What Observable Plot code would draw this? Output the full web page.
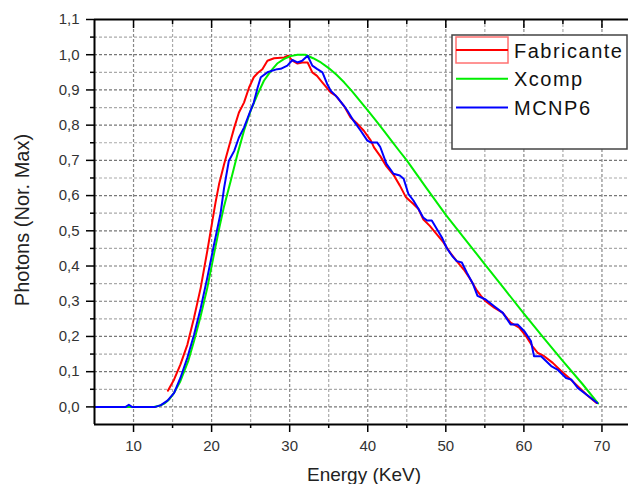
<!DOCTYPE html>
<html><head><meta charset="utf-8">
<script src="https://cdn.jsdelivr.net/npm/d3@7"></script>
<script src="https://cdn.jsdelivr.net/npm/@observablehq/plot@0.6"></script>
<style>body{margin:0;background:#fff;}</style>
</head><body><div id="chart"></div>
<script>
// ---- data ----
const seriesNames = ["Fabricante", "Xcomp", "MCNP6"];
const seriesColors = ["#ff0000", "#00ee00", "#0000ff"];

const fabricanteEnergy = [14.4,15.2,16.0,16.9,17.75,18.6,19.45,20.1,20.5,20.95,21.6,22.2,22.9,23.5,24.15,24.8,25.4,25.9,26.5,27.15,28.0,29.3,29.8,30.35,31.0,31.6,32.3,32.9,33.5,34.2,35.25,35.9,36.95,37.8,38.7,39.5,40.4,40.8,41.6,42.4,43.3,44.1,44.9,45.85,46.5,47.1,47.95,48.85,49.7,50.55,51.4,52.3,53.1,53.9,54.5,55.1,56.2,57.3,58.3,59.4,60.3,61.1,61.8,62.6,63.7,64.8,65.8,66.9,68.0,69.3];
const fabricanteValue = [0.046,0.078,0.12,0.177,0.253,0.338,0.443,0.528,0.58,0.632,0.689,0.737,0.793,0.836,0.864,0.907,0.936,0.948,0.959,0.983,0.99,0.992,0.997,0.983,0.975,0.978,0.978,0.95,0.94,0.921,0.893,0.884,0.855,0.822,0.803,0.784,0.756,0.737,0.712,0.683,0.659,0.629,0.595,0.576,0.562,0.533,0.514,0.49,0.467,0.438,0.414,0.39,0.364,0.333,0.315,0.3,0.282,0.267,0.239,0.225,0.2,0.172,0.153,0.144,0.125,0.101,0.082,0.059,0.035,0.011];

const xcompEnergy = [5,12.6,13.3,14.0,14.6,15.2,16.0,17.0,17.75,18.6,19.45,20.3,21.0,21.6,22.45,23.3,24.15,25.0,25.9,26.7,27.6,28.4,29.3,30.1,31.0,32.0,33.0,34.0,35.0,36.0,37.0,38.0,39.0,40.0,41.0,42.0,43.0,44.0,45.0,47.5,50.0,52.5,55.0,57.5,60.0,62.5,65.0,67.5,69.5];
const xcompValue = [0,0,0.003,0.01,0.022,0.04,0.073,0.13,0.187,0.258,0.338,0.433,0.51,0.57,0.642,0.717,0.784,0.841,0.888,0.926,0.954,0.975,0.988,0.996,1.0,1.0,0.99,0.978,0.962,0.943,0.921,0.896,0.869,0.842,0.814,0.786,0.757,0.728,0.70,0.622,0.545,0.475,0.405,0.335,0.265,0.197,0.13,0.065,0.01];

const mcnpEnergy = [5,9.0,9.4,9.8,12.8,13.5,14.35,15.2,16.0,16.9,17.75,18.6,19.45,20.3,21.15,21.6,22.2,22.9,23.5,24.15,24.8,25.4,25.9,26.3,27.15,28.4,28.85,29.7,30.35,31.0,31.6,32.3,32.9,33.5,34.2,34.8,35.25,36.1,36.95,37.4,38.2,39.1,39.95,40.4,41.2,41.6,42.4,43.3,44.1,44.6,45.2,45.85,46.5,47.1,47.6,48.2,48.85,49.5,50.1,50.8,51.4,52.05,52.7,53.5,54.06,55.1,56.2,57.3,58.3,59.2,60.05,60.9,61.3,62.2,63.5,64.3,65.4,66.05,66.9,68.0,69.4];
const mcnpValue = [0,0,0.006,0,0,0.005,0.018,0.04,0.082,0.14,0.205,0.28,0.367,0.46,0.55,0.622,0.698,0.727,0.765,0.793,0.831,0.864,0.907,0.936,0.95,0.959,0.96,0.969,0.985,0.978,0.983,0.997,0.969,0.96,0.95,0.917,0.898,0.879,0.855,0.841,0.812,0.784,0.756,0.751,0.751,0.738,0.69,0.662,0.657,0.648,0.605,0.586,0.562,0.538,0.529,0.529,0.505,0.481,0.452,0.429,0.414,0.41,0.381,0.348,0.315,0.305,0.286,0.267,0.234,0.234,0.215,0.187,0.144,0.144,0.116,0.106,0.082,0.078,0.054,0.035,0.011];

const xMajorTicks = [10, 20, 30, 40, 50, 60, 70];
const xMinorTicks = [15, 25, 35, 45, 55, 65];
const yMajorTicks = [0, 0.1, 0.2, 0.3, 0.4, 0.5, 0.6, 0.7, 0.8, 0.9, 1.0, 1.1];
const yMinorTicks = [0.05, 0.15, 0.25, 0.35, 0.45, 0.55, 0.65, 0.75, 0.85, 0.95, 1.05];
const xLabel = "Energy (KeV)";
const yLabel = "Photons (Nor. Max)";

// ---- build table ----
const toRows = (name, E, V) => E.map((e, i) => ({series: name, energy: e, value: V[i]}));
const rows = [
  ...toRows(seriesNames[0], fabricanteEnergy, fabricanteValue),
  ...toRows(seriesNames[1], xcompEnergy, xcompValue),
  ...toRows(seriesNames[2], mcnpEnergy, mcnpValue)
];
const fmt = d => d.toFixed(1).replace(".", ",");
const xDom = [5, 73.4], yDom = [-0.05, 1.1];
const font = "'Liberation Sans', Arial, sans-serif";
const dash = "3,2";

const chart = Plot.plot({
  width: 628, height: 484,
  marginLeft: 94, marginRight: 0, marginTop: 19, marginBottom: 60,
  style: {fontFamily: font, background: "#fff"},
  x: {domain: xDom},
  y: {domain: yDom},
  color: {domain: seriesNames, range: seriesColors},
  marks: [
    Plot.ruleY(yMinorTicks, {stroke: "#aaaaaa", strokeWidth: 1.2, strokeDasharray: dash}),
    Plot.ruleX(xMinorTicks, {stroke: "#aaaaaa", strokeWidth: 1.2, strokeDasharray: dash}),
    Plot.ruleY(yMajorTicks.filter(d => d < 1.1), {stroke: "#777777", strokeWidth: 1.2, strokeDasharray: dash}),
    Plot.ruleX(xMajorTicks, {stroke: "#888888", strokeWidth: 1.2, strokeDasharray: dash}),
    Plot.line(rows, {x: "energy", y: "value", z: "series", stroke: "series", strokeWidth: 2}),
    Plot.ruleX([xDom[0]], {stroke: "#000", strokeWidth: 2}),
    Plot.ruleY([yDom[1]], {stroke: "#000", strokeWidth: 2}),
    Plot.ruleY([yDom[0]], {stroke: "#000", strokeWidth: 2}),
    Plot.axisY(yMajorTicks, {tickSize: 8, tickPadding: 7, tickFormat: fmt, fontSize: 15, fill: "#333", stroke: "#000", strokeWidth: 1.5, label: null}),
    Plot.axisY(yMinorTicks, {tickSize: 4, tickFormat: () => "", stroke: "#000", strokeWidth: 1.5, label: null}),
    Plot.axisX(xMajorTicks, {tickSize: 8, tickPadding: 8, fontSize: 15, fill: "#333", stroke: "#000", strokeWidth: 1.5, label: null}),
    Plot.axisX(xMinorTicks, {tickSize: 4, tickFormat: () => "", stroke: "#000", strokeWidth: 1.5, label: null}),
    Plot.axisX(xMajorTicks, {anchor: "top", tickSize: 8, dy: 8, tickFormat: () => "", stroke: "#000", strokeWidth: 1.5, label: null}),
    Plot.axisX(xMinorTicks, {anchor: "top", tickSize: 4, dy: 4, tickFormat: () => "", stroke: "#000", strokeWidth: 1.5, label: null})
  ]
});
document.getElementById("chart").appendChild(chart);

// ---- titles and legend ----
const svg = d3.select(chart);
svg.append("text").attr("transform", "translate(29,220) rotate(-90)")
  .attr("text-anchor", "middle").attr("font-size", 20).attr("fill", "#222")
  .attr("font-family", font).text(yLabel);
svg.append("text").attr("x", 364).attr("y", 481)
  .attr("text-anchor", "middle").attr("font-size", 19).attr("fill", "#222")
  .attr("font-family", font).text(xLabel);

const lg = svg.append("g").attr("font-family", font).attr("text-anchor", "start");
lg.append("rect").attr("x", 452).attr("y", 35).attr("width", 175).attr("height", 114)
  .attr("fill", "#fff").attr("stroke", "#444").attr("stroke-width", 1.5);
lg.append("rect").attr("x", 456).attr("y", 37).attr("width", 52).attr("height", 26)
  .attr("fill", "none").attr("stroke", "#ff7070").attr("stroke-width", 1.5);
seriesNames.forEach((name, i) => {
  const cy = 50 + i * 28.7;
  lg.append("line").attr("x1", 456).attr("x2", 508).attr("y1", cy).attr("y2", cy)
    .attr("stroke", seriesColors[i]).attr("stroke-width", 2);
  lg.append("text").attr("x", 514).attr("y", cy + 7.5).attr("font-size", 20)
    .attr("text-anchor", "start").attr("letter-spacing", "1.5px").attr("fill", "#111").text(name);
});
</script>
</body></html>
